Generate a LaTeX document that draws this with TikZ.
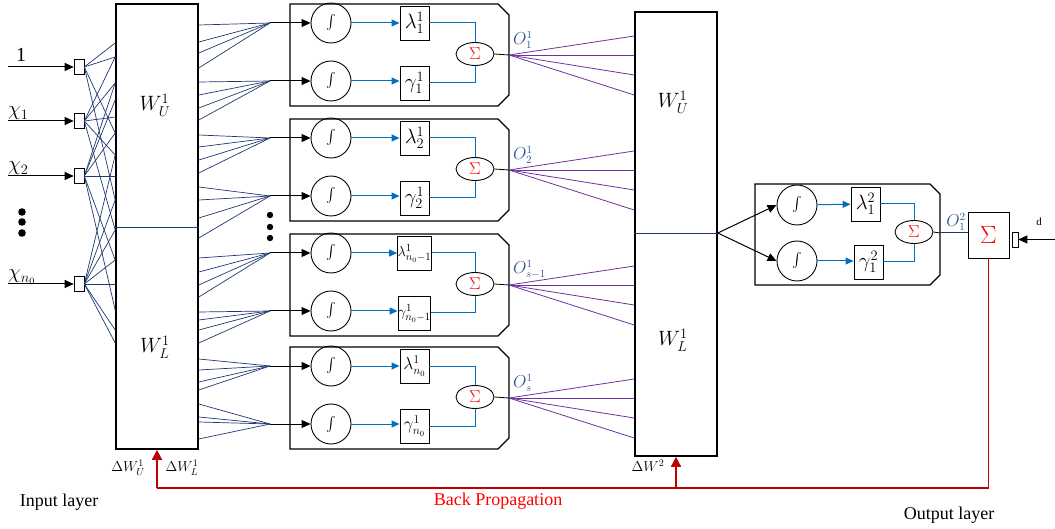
\documentclass[tikz,border=0pt]{standalone}
\usepackage{exscale}
\usepackage{fontspec}
\setmainfont{Liberation Serif}
\usepackage{xcolor}
\usetikzlibrary{arrows.meta,positioning,shapes.geometric}
\definecolor{netblue}{RGB}{31,56,112}
\definecolor{arrblue}{RGB}{0,112,192}
\definecolor{purp}{RGB}{112,48,160}
\definecolor{olab}{RGB}{47,84,150}
\definecolor{bpred}{RGB}{192,0,0}

\begin{document}
\begin{tikzpicture}[x=1pt, y=-1pt,
  bigbox/.style={draw, line width=1.6pt, minimum width=82pt, inner sep=0pt},
  insq/.style={draw, fill=white, line width=0.6pt, minimum width=10pt, minimum height=15pt, inner sep=0pt},
  integ/.style={draw, circle, line width=0.9pt, minimum size=40pt, inner sep=0pt, font=\fontsize{15}{15}\selectfont},
  coef/.style={draw, line width=0.9pt, minimum width=29pt, minimum height=34pt, inner sep=0pt},
  sumell/.style={draw, ellipse, line width=0.9pt, minimum width=38pt, minimum height=23pt, inner sep=0pt, text=red, font=\fontsize{16}{16}\selectfont},
  cell/.style={line width=1.1pt},
  wire/.style={netblue, line width=0.7pt},
  pwire/.style={purp, line width=0.8pt},
  bline/.style={arrblue, line width=1pt},
  barr/.style={arrblue, line width=1pt, -{Triangle[length=8pt,width=7pt]}},
  karr/.style={line width=1pt, -{Triangle[length=9pt,width=8pt]}},
  redarr/.style={bpred, line width=1.4pt, -{Triangle[length=10pt,width=10pt]}},
  wlab/.style={font=\fontsize{22}{22}\selectfont},
  inlab/.style={font=\fontsize{20}{20}\selectfont, inner sep=0pt},
  olabel/.style={text=olab, font=\fontsize{16}{16}\selectfont, inner sep=0pt},
  dlab/.style={font=\fontsize{14}{14}\selectfont, inner sep=0pt},
  caption/.style={font=\fontsize{18}{18}\selectfont}]
\useasboundingbox (0,0) rectangle (1055,529);

% weight layers
\node[bigbox, minimum height=445pt] (w1) at (157,226.5) {};
\draw[wire] (w1.west |- 0,227) -- (w1.east |- 0,227);
\node[wlab] at (155,105) {$W_U^1$};
\node[wlab] at (155,347) {$W_L^1$};
\node[bigbox, minimum height=444pt] (w2) at (676,234) {};
\draw[wire] (w2.west |- 0,233) -- (w2.east |- 0,233);
\node[wlab] at (673,102) {$W_U^1$};
\node[wlab] at (673,340) {$W_L^1$};

% inputs
\foreach \k/\y/\lx/\lab in {1/67/16/{1}, 2/121/8/{$\chi_1$}, 3/176/8/{$\chi_2$}, 4/284/8/{$\chi_{n_0}$}} {
  \node[insq] (in\k) at (79,\y) {};
  \coordinate (src\k) at (8,\y);
  \draw[karr] (src\k) -- (in\k.west);
  \node[inlab, anchor=base west] (lab\k) at (\lx,\y-5) {\lab};
}
\foreach \y in {212,222,233} \fill (22,\y) circle (3.8);
\foreach \k/\ys in {1/{43,57,133,200}, 2/{57,83,117,155,230}, 3/{83,100,133,176,260,310}, 4/{155,200,230,260,284,330,343}}
  \foreach \y in \ys \draw[wire] (in\k.east) -- (w1.west |- 0,\y);

% hidden cells
\foreach \tp/\sb/\ou/\fs [count=\k] in {4/1/1/20, 119/2/2/20, 234/{n_0-1}/{s-1}/15, 347/{n_0}/s/17} {
  \draw[cell] (290,\tp) -- (498,\tp) -- (509,\tp+11) -- (509,\tp+91) -- (498,\tp+102) -- (290,\tp+102) -- cycle;
  \node[integ] (ia\k) at (331,\tp+19) {$\int$};
  \node[integ] (ib\k) at (331,\tp+77) {$\int$};
  \node[coef, font=\fontsize{\fs}{\fs}\selectfont] (lam\k) at (414.5,\tp+19) {$\lambda_{\sb}^{1}$};
  \node[coef, font=\fontsize{\fs}{\fs}\selectfont] (gam\k) at (414.5,\tp+79) {$\gamma_{\sb}^{1}$};
  \node[sumell] (sum\k) at (475,\tp+50) {$\Sigma$};
  \coordinate (o\k) at (509,\tp+51);
  \draw[barr] (ia\k) -- (lam\k);
  \draw[barr] (ib\k.east) -- (ib\k.east -| gam\k.west);
  \draw[bline] (lam\k.east) -| (sum\k.north);
  \draw[bline] (gam\k.east) -| (sum\k.south);
  \draw[line width=0.8pt] (sum\k.east) -- (o\k);
  \node[olabel, anchor=south west] at (513,\tp+45) {$O_{\ou}^1$};
  \foreach \d in {-19,0,20,40} \draw[pwire] (o\k) -- (w2.west |- 0,\tp+51+\d);
}
\foreach \n/\ys in {ia1/{25,42,53,68}, ib1/{82,95,108,120}, ia2/{135,147,160,173}, ib2/{187,200,218,238}, ia3/{258,272,285,297}, ib3/{312,320,330,343}, ia4/{359,370,382,390}, ib4/{404,417,422,439}} {
  \coordinate (fan-\n) at (\n.west -| 270,0);
  \foreach \y in \ys \draw[wire] (w1.east |- 0,\y) -- (fan-\n);
  \draw[karr] (fan-\n) -- (\n.west);
}
\foreach \y in {215,227,238} \fill (270,\y) circle (3.2);

% output cell
\draw[cell] (755,184) -- (930,184) -- (940,194) -- (940,275) -- (930,285) -- (755,285) -- cycle;
\node[integ] (oa) at (797,205) {$\int$};
\node[integ] (ob) at (797,261) {$\int$};
\node[coef, font=\fontsize{20}{20}\selectfont] (olam) at (865.5,204) {$\lambda_{1}^{2}$};
\node[coef, font=\fontsize{20}{20}\selectfont] (ogam) at (868.5,262) {$\gamma_{1}^{2}$};
\node[sumell] (osum) at (914,232) {$\Sigma$};
\coordinate (wo) at (w2.east |- 0,233);
\draw[karr] (wo) -- (oa.west);
\draw[karr] (wo) -- (ob.west);
\draw[barr] (oa) -- (olam);
\draw[barr] (ob.east) -- (ob.east -| ogam.west);
\draw[bline] (olam.east) -| (osum.north);
\draw[bline] (ogam.east) -| (osum.south);
\coordinate (oo) at (940,233);
\draw[line width=0.8pt] (osum.east) -- (oo);

% output sum
\node[draw, line width=0.8pt, minimum width=41pt, minimum height=46pt, inner sep=0pt, text=red, font=\fontsize{28}{28}\selectfont] (sumout) at (988.5,235) {$\Sigma$};
\draw[netblue, line width=1pt] (oo) -- (sumout.west |- oo);
\node[olabel, anchor=south] at (956,231) {$O_1^2$};
\node[insq, minimum width=6pt, minimum height=15pt] (dsq) at (1015,239.5) {};
\coordinate (dsrc) at (1055,239.5);
\draw[karr] (dsrc) -- (dsq.east);
\node[font=\fontsize{11}{11}\selectfont] at (1039,222) {d};

% back propagation
\draw[bpred, line width=1.4pt] (sumout.south) |- (w1.south |- 0,488);
\draw[redarr] (w1.south |- 0,488) -- (w1.south);
\draw[redarr] (w2.south |- 0,488) -- (w2.south);
\node[dlab] at (128,468) {$\Delta W_U^1$};
\node[dlab] at (182,468) {$\Delta W_L^1$};
\node[dlab] at (648,466) {$\Delta W^2$};
\node[caption, text=red] at (498,501) {Back Propagation};
\node[caption] at (59,502) {Input layer};
\node[caption] at (949,515) {Output layer};
\end{tikzpicture}
\end{document}
